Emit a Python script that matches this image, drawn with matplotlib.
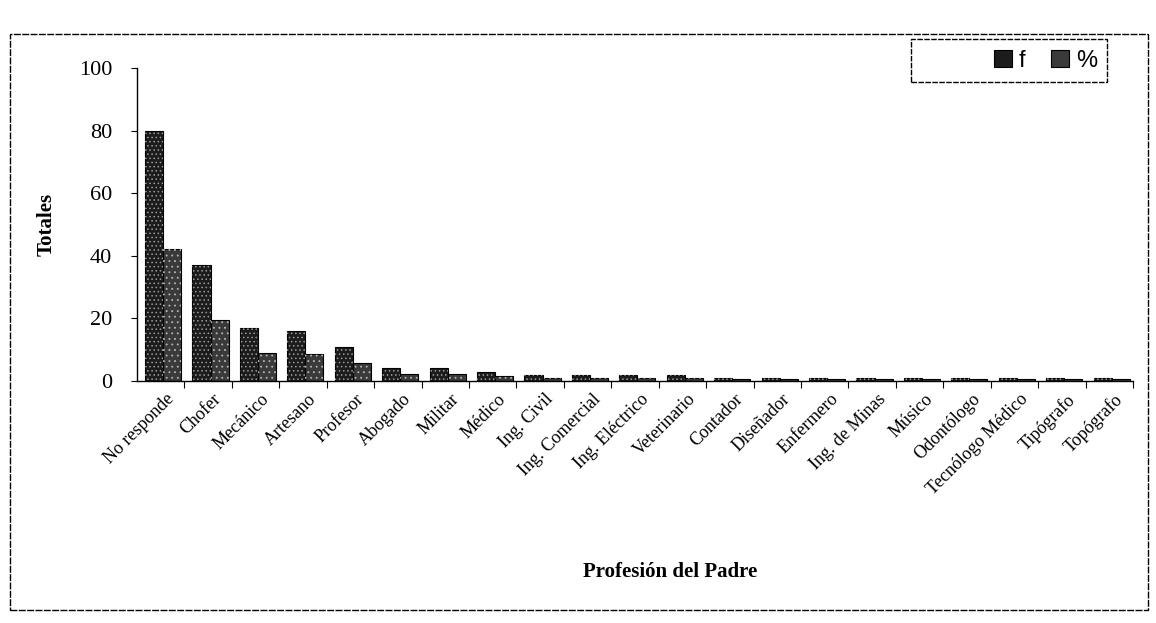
import matplotlib
matplotlib.use("Agg")
import matplotlib.pyplot as plt
from matplotlib.patches import Rectangle
import numpy as np

# Datos
profesiones = ["No responde", "Chofer", "Mecánico", "Artesano", "Profesor",
               "Abogado", "Militar", "Médico", "Ing. Civil", "Ing. Comercial",
               "Ing. Eléctrico", "Veterinario", "Contador", "Diseñador",
               "Enfermero", "Ing. de Minas", "Músico", "Odontólogo",
               "Tecnólogo Médico", "Tipógrafo", "Topógrafo"]
frecuencia = [80, 37, 17, 16, 11, 4, 4, 3, 2, 2, 2, 2, 1, 1, 1, 1, 1, 1, 1, 1, 1]
porcentaje = [42.3, 19.6, 9.0, 8.5, 5.8, 2.1, 2.1, 1.6, 1.1, 1.1, 1.1, 1.1,
              0.5, 0.5, 0.5, 0.5, 0.5, 0.5, 0.5, 0.5, 0.5]
yticks = [0, 20, 40, 60, 80, 100]

serif = ["Liberation Serif", "DejaVu Serif"]
sans = ["Liberation Sans", "DejaVu Sans"]

fig = plt.figure(figsize=(11.56, 6.23), dpi=100)
ax = fig.add_axes([137/1156, 1 - 381/623, (1133-137)/1156, (381-68)/623])

x = np.arange(len(profesiones))
w = 0.38
plt.rcParams['hatch.linewidth'] = 0.6
# barras base oscuras
b1 = ax.bar(x - w/2 + 0.05, frecuencia, w, color="#1c1c1c", edgecolor="black",
            linewidth=0.8, label="f")
b2 = ax.bar(x + w/2 + 0.05, porcentaje, w, color="#3a3a3a", edgecolor="black",
            linewidth=0.8, label="%")
# moteado claro encima
ax.bar(x - w/2 + 0.05, frecuencia, w, facecolor="none", edgecolor="#9a9a9a",
       linewidth=0, hatch="....")
ax.bar(x + w/2 + 0.05, porcentaje, w, facecolor="none", edgecolor="#b5b5b5",
       linewidth=0, hatch="...")

ax.set_xlim(-0.5, len(profesiones) - 0.5)
ax.set_ylim(0, 100)
ax.set_yticks(yticks)
ax.set_yticklabels([str(v) for v in yticks], fontsize=16, family=serif)
ax.set_xticks(x + 0.1)
ax.set_xticklabels(profesiones, rotation=45, ha="right", rotation_mode="anchor",
                   fontsize=13, family=serif)
ax.tick_params(axis="x", which="major", length=0, pad=7)
ax.set_xticks(np.arange(len(profesiones)) + 0.5, minor=True)
ax.tick_params(axis="x", which="minor", length=5, direction="out", width=0.8)
ax.tick_params(axis="y", length=4, width=0.8, pad=14)

for s in ["top", "right"]:
    ax.spines[s].set_visible(False)
ax.spines["left"].set_linewidth(1.0)
ax.spines["bottom"].set_linewidth(1.0)

ax.set_ylabel("Totales", fontsize=15, fontweight="bold", family=serif, labelpad=16)
fig.text(0.58, 1 - 572/623, "Profesión del Padre", fontsize=15, fontweight="bold",
         family=serif, ha="center", va="center")

# leyenda (sin marco) y su recuadro aparte
fig.legend(handles=[b1, b2], labels=["f", "%"], ncol=2,
           loc="center left", bbox_to_anchor=(982/1156, 1 - 61/623),
           prop={"family": sans, "size": 17}, frameon=False,
           handlelength=0.75, handleheight=0.75, columnspacing=1.1,
           borderpad=0.0, handletextpad=0.3)
fig.patches.append(Rectangle((911/1156, 1 - 82/623), (1107-911)/1156, (82-39)/623,
                             transform=fig.transFigure, fill=False,
                             edgecolor="black", linewidth=1.0,
                             linestyle=(0, (4, 1))))

# marco exterior del grafico
fig.patches.append(Rectangle((10/1156, 1 - 610/623), (1148-10)/1156, (610-34)/623,
                             transform=fig.transFigure, fill=False,
                             edgecolor="black", linewidth=1.0,
                             linestyle=(0, (5, 1))))

fig.savefig("out.png", dpi=100)
